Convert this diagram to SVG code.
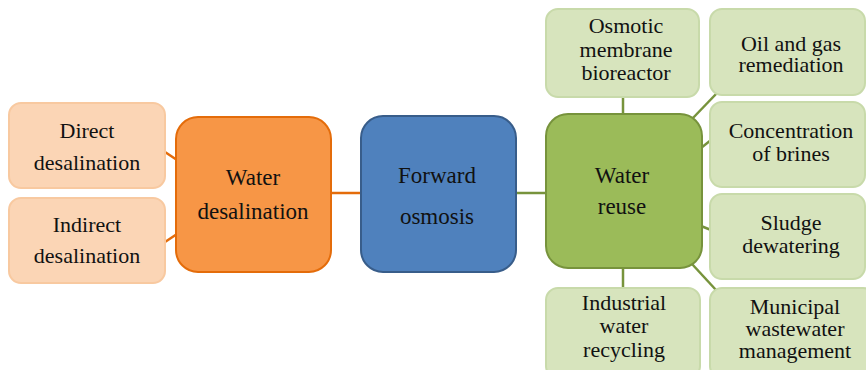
<svg xmlns="http://www.w3.org/2000/svg" width="866" height="370" viewBox="0 0 866 370">
<defs>
<style>
text{font-family:"Liberation Serif","Times New Roman",serif;fill:#111;text-anchor:middle;font-size:22px}
.big{font-size:23px}
.lo{fill:#FBD5B5;stroke:#F8C9A0;stroke-width:2}
.mo{fill:#F79646;stroke:#E46C0A;stroke-width:2}
.bl{fill:#4F81BD;stroke:#385D8A;stroke-width:2}
.gr{fill:#9BBB59;stroke:#77933C;stroke-width:2}
.lg{fill:#D7E4BD;stroke:#C8DAAA;stroke-width:2}
.co{stroke:#E46C0A;stroke-width:2.5;fill:none}
.cg{stroke:#77933C;stroke-width:2.5;fill:none}
</style>
</defs>
<g id="connectors">
<line class="co" x1="165" y1="152" x2="177" y2="160"/>
<line class="co" x1="165" y1="242" x2="177" y2="234"/>
<line class="co" x1="331" y1="193" x2="362" y2="193"/>
<line class="cg" x1="515" y1="193" x2="546" y2="193"/>
<line class="cg" x1="623" y1="97" x2="623" y2="115"/>
<line class="cg" x1="623" y1="268" x2="623" y2="288"/>
<line class="cg" x1="692" y1="119" x2="717" y2="93"/>
<line class="cg" x1="701" y1="148" x2="711" y2="140"/>
<line class="cg" x1="701" y1="226" x2="711" y2="230"/>
<line class="cg" x1="692" y1="264" x2="716" y2="290"/>
</g>
<g id="direct"><rect class="lo" x="9" y="103" width="156" height="85" rx="12"/><text x="87" y="138">Direct</text><text x="87" y="170">desalination</text></g>
<g id="indirect"><rect class="lo" x="9" y="198" width="156" height="85" rx="12"/><text x="87" y="232">Indirect</text><text x="87" y="263">desalination</text></g>
<g id="water-desalination"><rect class="mo" x="176" y="117" width="155" height="155" rx="22"/><text class="big" x="253" y="185">Water</text><text class="big" x="253" y="219">desalination</text></g>
<g id="forward-osmosis"><rect class="bl" x="361" y="116" width="155" height="156" rx="22"/><text class="big" x="437" y="183">Forward</text><text class="big" x="437" y="224">osmosis</text></g>
<g id="water-reuse"><rect class="gr" x="546" y="114" width="156" height="154" rx="22"/><text class="big" x="622" y="183">Water</text><text class="big" x="622" y="214">reuse</text></g>
<g id="omb"><rect class="lg" x="546" y="9" width="153" height="88" rx="12"/><text x="626" y="33">Osmotic</text><text x="626" y="57">membrane</text><text x="626" y="80">bioreactor</text></g>
<g id="oil-gas"><rect class="lg" x="710" y="9" width="155" height="86" rx="12"/><text x="791" y="51">Oil and gas</text><text x="791" y="72">remediation</text></g>
<g id="brines"><rect class="lg" x="710" y="102" width="155" height="85" rx="12"/><text x="791" y="138">Concentration</text><text x="791" y="161">of brines</text></g>
<g id="sludge"><rect class="lg" x="710" y="194" width="155" height="85" rx="12"/><text x="791" y="230">Sludge</text><text x="791" y="253">dewatering</text></g>
<g id="industrial"><rect class="lg" x="546" y="288" width="154" height="90" rx="12"/><text x="624" y="310">Industrial</text><text x="624" y="333">water</text><text x="624" y="357">recycling</text></g>
<g id="municipal"><rect class="lg" x="710" y="288" width="165" height="90" rx="12"/><text x="795" y="314">Municipal</text><text x="795" y="336">wastewater</text><text x="795" y="358">management</text></g>
</svg>
